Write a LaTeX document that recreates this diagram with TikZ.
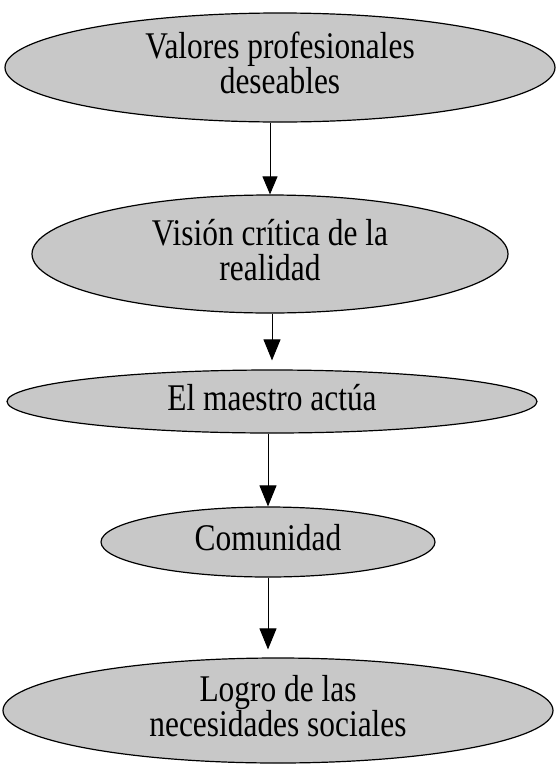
\documentclass[tikz,border=0pt]{standalone}
\usepackage{fontspec}
\usepackage{graphicx}
\setmainfont{Liberation Serif}
\usetikzlibrary{shapes.geometric,arrows.meta}
\newcommand\stxt[1]{\scalebox{1}[1.2]{\begin{tabular}{@{}c@{}}#1\end{tabular}}}
\begin{document}
\begin{tikzpicture}[x=1pt,y=1pt,
  oval/.style={ellipse,draw=black,line width=1.2pt,fill={rgb,255:red,200;green,200;blue,200},
    inner sep=0pt,align=center,font=\fontsize{31.4}{25}\selectfont},
  arr/.style={line width=0.9pt,-{Triangle[width=17pt,length=21pt]}}]
\useasboundingbox[fill=white] (0,0) rectangle (556,-766);
\node[oval,minimum width=550pt,minimum height=109pt] (e1) at (280,-67.5) {\stxt{Valores profesionales\\deseables}};
\node[oval,minimum width=476pt,minimum height=118pt] (e2) at (270,-254) {\stxt{Visión crítica de la\\realidad}};
\node[oval,minimum width=530pt,minimum height=63pt] (e3) at (272,-401.5) {\stxt{El maestro actúa}};
\node[oval,minimum width=334pt,minimum height=70pt] (e4) at (268,-542) {\stxt{Comunidad}};
\node[oval,minimum width=550pt,minimum height=105pt] (e5) at (278,-710.5) {\stxt{Logro de las\\necesidades sociales}};
\draw[line width=0.9pt,-{Triangle[width=15pt,length=18pt]}] (e1.south -| e2.north) -- (e2.north);
\draw[arr,shorten >=9pt] (e2.south -| e3.north) -- (e3.north);
\draw[arr] (e3.south -| e4.north) -- (e4.north);
\draw[arr,shorten >=8pt] (e4.south) -- (e4.south |- e5.north);
\end{tikzpicture}
\end{document}
